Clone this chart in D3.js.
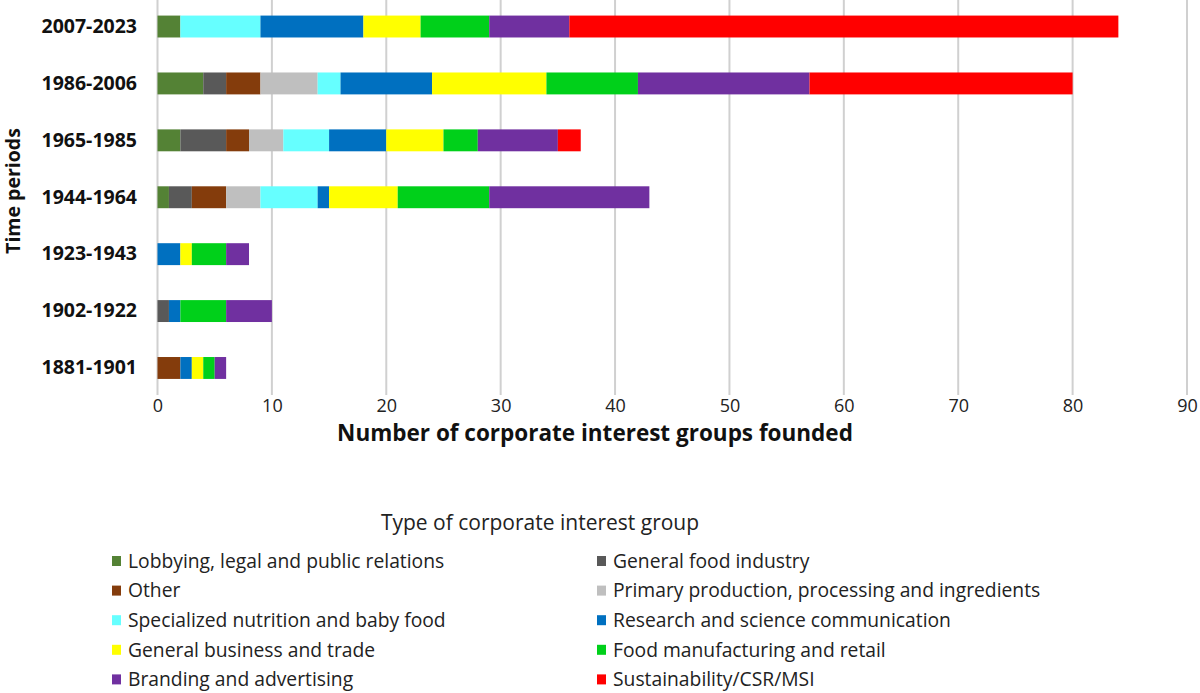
<!DOCTYPE html>
<html>
<head>
<meta charset="utf-8">
<script src="https://cdn.jsdelivr.net/npm/d3@7"></script>
<style>
  html, body { margin: 0; padding: 0; background: #fff; }
  svg { display: block; }
  text { font-family: "Open Sans", "Noto Sans", sans-serif; }
</style>
</head>
<body>
<svg id="chart" width="1200" height="693"></svg>
<script>
// ---- data ----
const periods = ["2007-2023", "1986-2006", "1965-1985", "1944-1964", "1923-1943", "1902-1922", "1881-1901"];
const seriesNames = [
  "Lobbying, legal and public relations",
  "General food industry",
  "Other",
  "Primary production, processing and ingredients",
  "Specialized nutrition and baby food",
  "Research and science communication",
  "General business and trade",
  "Food manufacturing and retail",
  "Branding and advertising",
  "Sustainability/CSR/MSI"
];
const seriesColors = ["#548235", "#595959", "#843C0C", "#BFBFBF", "#66FFFF", "#0070C0", "#FFFF00", "#00D01A", "#7030A0", "#FF0000"];
// values per series, in the order of periods
const lobbying    = [2, 4, 2, 1, 0, 0, 0];
const generalFood = [0, 2, 4, 2, 0, 1, 0];
const other       = [0, 3, 2, 3, 0, 0, 2];
const primary     = [0, 5, 3, 3, 0, 0, 0];
const specialized = [7, 2, 4, 5, 0, 0, 0];
const research    = [9, 8, 5, 1, 2, 1, 1];
const business    = [5, 10, 5, 6, 1, 0, 1];
const manufacturing = [6, 8, 3, 8, 3, 4, 1];
const branding    = [7, 15, 7, 14, 2, 4, 1];
const sustainability = [48, 23, 2, 0, 0, 0, 0];
const xTicks = [0, 10, 20, 30, 40, 50, 60, 70, 80, 90];

const seriesValues = [lobbying, generalFood, other, primary, specialized, research, business, manufacturing, branding, sustainability];

// build table for d3.stack
const table = periods.map((p, i) => {
  const row = { period: p };
  seriesNames.forEach((s, j) => { row[s] = seriesValues[j][i]; });
  return row;
});

const svg = d3.select("#chart");
const plotTop = 0, plotBottom = 395;

const x = d3.scaleLinear().domain([0, 90]).range([157.5, 1187]);
const y = d3.scaleBand().domain(periods).range([-1.5, 396]).paddingInner(0.615).paddingOuter(0.3);

// gridlines
svg.append("g")
  .selectAll("line")
  .data(xTicks)
  .join("line")
  .attr("x1", d => x(d)).attr("x2", d => x(d))
  .attr("y1", plotTop).attr("y2", plotBottom)
  .attr("stroke", "#d0d0d0").attr("stroke-width", 2);

// bars
const stack = d3.stack().keys(seriesNames);
const layers = stack(table);
svg.append("g")
  .selectAll("g")
  .data(layers)
  .join("g")
  .attr("fill", (d, i) => seriesColors[i])
  .selectAll("rect")
  .data(d => d.filter(v => v[1] - v[0] > 0))
  .join("rect")
  .attr("x", d => x(d[0]))
  .attr("width", d => x(d[1]) - x(d[0]))
  .attr("y", d => y(d.data.period))
  .attr("height", y.bandwidth());

// x axis (ticks only)
const xAxis = d3.axisBottom(x).tickValues(xTicks).tickSize(0).tickPadding(0);
const gx = svg.append("g").attr("transform", `translate(0, ${plotBottom})`).call(xAxis);
gx.select(".domain").remove();
gx.selectAll("text")
  .attr("y", 4)
  .attr("dy", "0.71em")
  .style("font-size", "18px")
  .style("font-family", "'Open Sans', sans-serif")
  .attr("fill", "#222");

// y axis labels
const yAxis = d3.axisLeft(y).tickSize(0).tickPadding(0);
const gy = svg.append("g").attr("transform", `translate(137, 0)`).call(yAxis);
gy.select(".domain").remove();
gy.selectAll("text")
  .style("font-size", "19.5px")
  .style("font-weight", "bold")
  .style("font-family", "'Open Sans', sans-serif")
  .attr("fill", "#111");

// axis titles
svg.append("text")
  .attr("x", 595).attr("y", 441)
  .attr("text-anchor", "middle")
  .style("font-size", "22.5px").style("font-weight", "bold")
  .attr("fill", "#111")
  .text("Number of corporate interest groups founded");

svg.append("text")
  .attr("transform", "translate(19.5, 191) rotate(-90)")
  .attr("text-anchor", "middle")
  .style("font-size", "19.5px").style("font-weight", "bold")
  .attr("fill", "#111")
  .text("Time periods");

// legend
svg.append("text")
  .attr("x", 540).attr("y", 530)
  .attr("text-anchor", "middle")
  .style("font-size", "21px")
  .attr("fill", "#222")
  .text("Type of corporate interest group");

const legend = svg.append("g");
const items = legend.selectAll("g")
  .data(seriesNames)
  .join("g")
  .attr("transform", (d, i) => `translate(${i % 2 === 0 ? 112 : 597}, ${561 + Math.floor(i / 2) * 29.6})`);
items.append("rect")
  .attr("x", 0).attr("y", -5).attr("width", 9).attr("height", 10)
  .attr("fill", (d, i) => seriesColors[i]);
items.append("text")
  .attr("x", 16).attr("y", 0).attr("dy", "0.35em")
  .style("font-size", "19.3px")
  .attr("fill", "#222")
  .text(d => d);
</script>
</body>
</html>
